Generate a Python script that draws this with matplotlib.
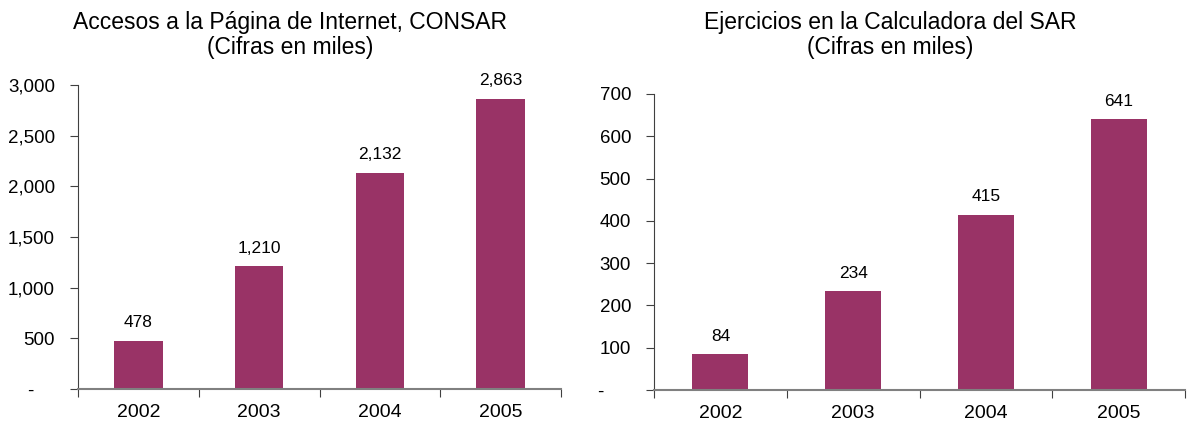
import matplotlib.pyplot as plt
from matplotlib.ticker import FuncFormatter

plt.rcParams['font.family'] = ['Liberation Sans', 'DejaVu Sans']

# datos
anios = ['2002', '2003', '2004', '2005']
accesos = [478, 1210, 2132, 2863]
ejercicios = [84, 234, 415, 641]

color_barra = '#993366'
gris = '#808080'


def formato(espacios):
    # formato tipo "contabilidad": el cero se muestra como guion
    def fmt(v, pos):
        if v == 0:
            return '-' + ' ' * espacios
        return '{:,.0f}'.format(v)
    return FuncFormatter(fmt)


def panel(ax, valores, ymax, paso, ancho, espacios):
    x = range(len(valores))
    ax.bar(x, valores, width=ancho, color=color_barra, zorder=2)
    for xi, v in zip(x, valores):
        ax.text(xi, v + ymax * 0.035, '{:,}'.format(v), ha='center',
                va='bottom', fontsize=12.5)
    ax.set_xlim(-0.5, len(valores) - 0.5)
    ax.set_ylim(0, ymax)
    ax.set_yticks(range(0, ymax + 1, paso))
    ax.yaxis.set_major_formatter(formato(espacios))
    # ticks del eje x en las fronteras entre categorias
    ax.set_xticks([i - 0.5 for i in range(len(valores) + 1)])
    ax.set_xticklabels([])
    ax.set_xticks(list(x), minor=True)
    ax.set_xticklabels(anios, minor=True, fontsize=14)
    ax.tick_params(axis='x', which='minor', length=0, pad=11)
    ax.tick_params(axis='x', which='major', length=6, color='#404040',
                   direction='out')
    ax.tick_params(axis='y', length=6, color='#404040', direction='out',
                   labelsize=13.5, pad=10.5)
    for s in ['top', 'right']:
        ax.spines[s].set_visible(False)
    ax.spines['left'].set_color('#404040')
    ax.spines['bottom'].set_color(gris)
    ax.spines['bottom'].set_linewidth(1.5)


fig = plt.figure(figsize=(11.96, 4.23), dpi=100)
W, H = 1196, 423

ax1 = fig.add_axes([78 / W, 1 - 389 / H, (561 - 78) / W, (389 - 85) / H])
ax2 = fig.add_axes([654 / W, 1 - 390 / H, (1185 - 654) / W, (390 - 94) / H])

panel(ax1, accesos, 3000, 500, 0.4, 4)
panel(ax2, ejercicios, 700, 100, 0.42, 5)

fig.text(290 / W, 1 - 35 / H, 'Accesos a la Página de Internet, CONSAR\n(Cifras en miles)',
         ha='center', va='center', fontsize=16.5, linespacing=1.1)
fig.text(890 / W, 1 - 35 / H, 'Ejercicios en la Calculadora del SAR\n(Cifras en miles)',
         ha='center', va='center', fontsize=16.5, linespacing=1.1)

fig.savefig('out.png', dpi=100)
